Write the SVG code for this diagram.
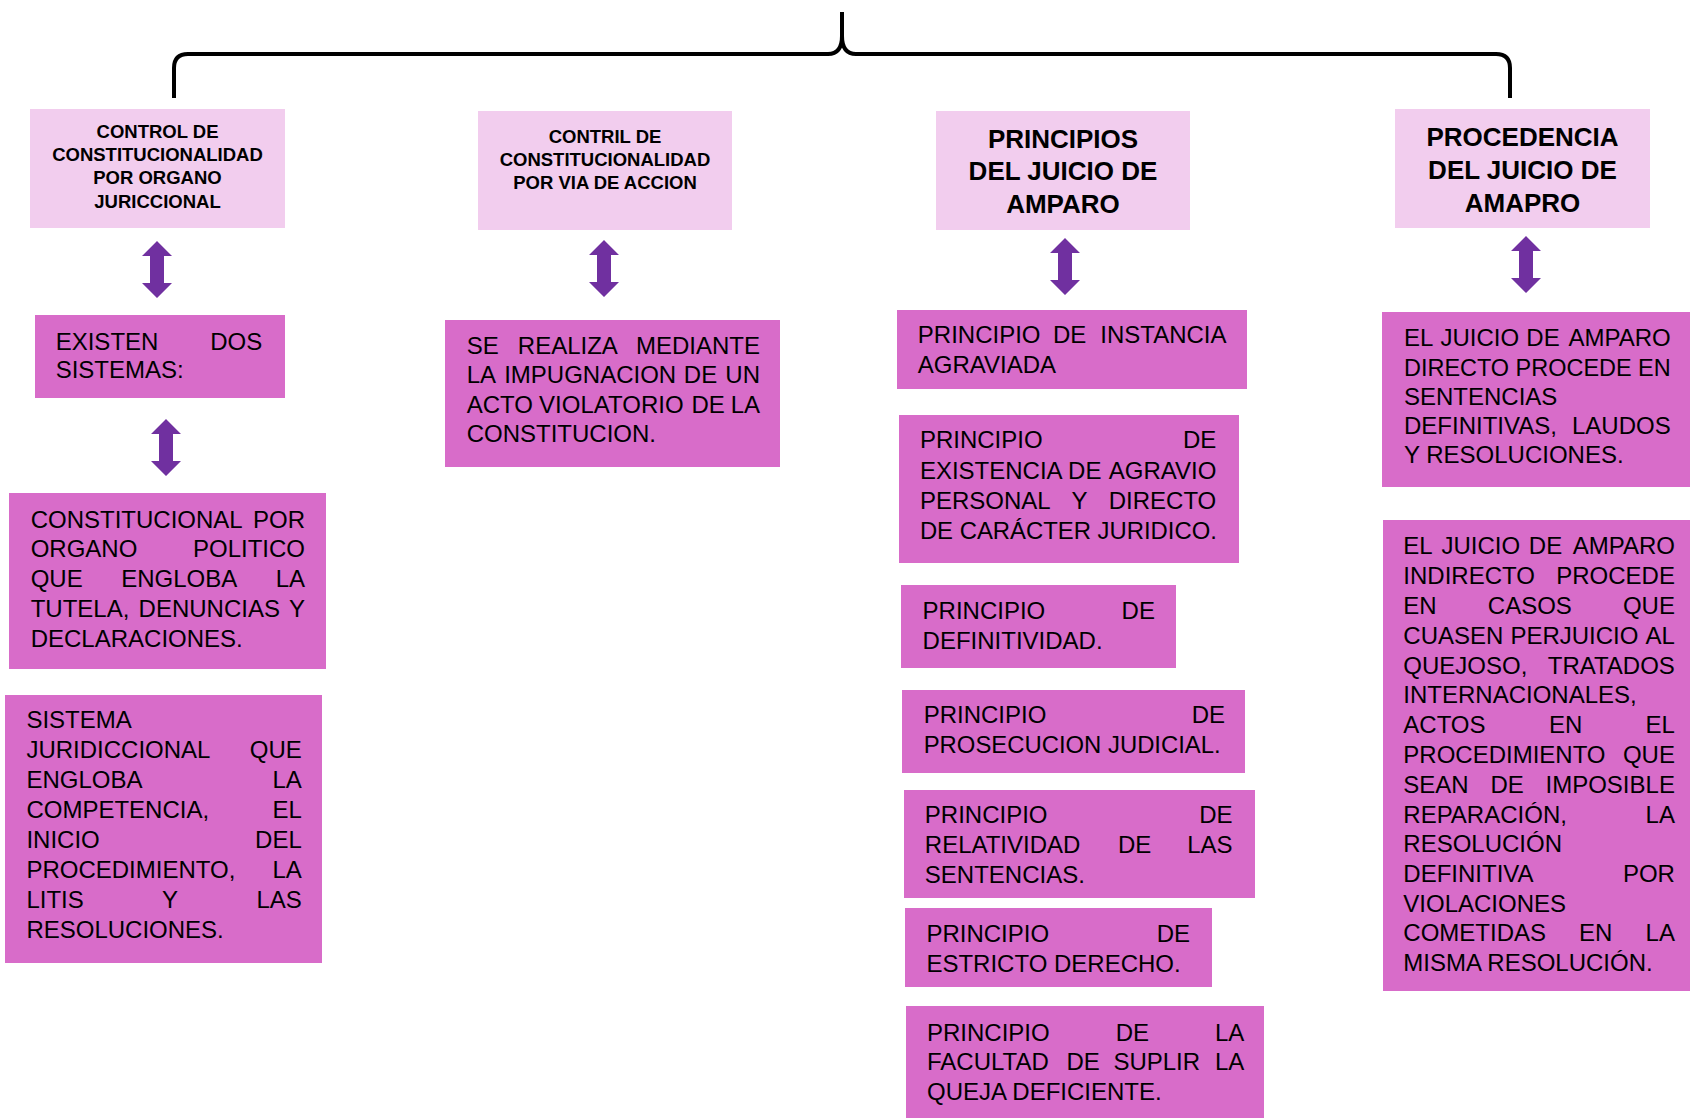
<svg xmlns="http://www.w3.org/2000/svg" xmlns:xlink="http://www.w3.org/1999/xlink" width="1690" height="1118" viewBox="0 0 1690 1118">
<style>
.lt{fill:#F2CDEE}
.dk{fill:#D86CC9}
text{font-family:"Liberation Sans",Arial,sans-serif;fill:#000}
.t{font-size:24px}
.e{text-anchor:end}
.h1{font-size:18.5px;font-weight:bold;text-anchor:middle}
.h2{font-size:26px;font-weight:bold;text-anchor:middle}
.br{fill:none;stroke:#000;stroke-width:4;stroke-linecap:butt;stroke-linejoin:round}
.ar{fill:#7030A0}
</style>
<defs>
<path id="dbl" d="M0 0 L15 15 L7 15 L7 42 L15 42 L0 57 L-15 42 L-7 42 L-7 15 L-15 15 Z"/>
</defs>
<rect width="1690" height="1118" fill="#fff"/>

<g id="connectors">
<path class="br" d="M174 98 V68 Q174 54 188 54 H828 Q842 54 842 36 V12"/>
<path class="br" d="M842 36 Q842 54 856 54 H1496 Q1510 54 1510 68 V98"/>
<use xlink:href="#dbl" class="ar" x="157" y="241"/>
<use xlink:href="#dbl" class="ar" x="166" y="419"/>
<use xlink:href="#dbl" class="ar" x="604" y="240"/>
<use xlink:href="#dbl" class="ar" x="1065" y="238"/>
<use xlink:href="#dbl" class="ar" x="1526" y="236"/>
</g>

<g id="n-control">
<rect class="lt" x="30" y="109" width="255" height="119"/>
<text class="h1" x="157.5" y="138.3">CONTROL DE</text>
<text class="h1" x="157.5" y="161">CONSTITUCIONALIDAD</text>
<text class="h1" x="157.5" y="184">POR ORGANO</text>
<text class="h1" x="157.5" y="207.7">JURICCIONAL</text>
</g>

<g id="n-contril">
<rect class="lt" x="478" y="111" width="254" height="119"/>
<text class="h1" x="605" y="143.3">CONTRIL DE</text>
<text class="h1" x="605" y="165.7">CONSTITUCIONALIDAD</text>
<text class="h1" x="605" y="188.7">POR VIA DE ACCION</text>
</g>

<g id="n-principios">
<rect class="lt" x="936" y="111" width="254" height="119"/>
<text class="h2" x="1063" y="147.7">PRINCIPIOS</text>
<text class="h2" x="1063" y="180.3">DEL JUICIO DE</text>
<text class="h2" x="1063" y="213.3">AMPARO</text>
</g>

<g id="n-procedencia">
<rect class="lt" x="1395" y="109" width="255" height="119"/>
<text class="h2" x="1522.5" y="145.7">PROCEDENCIA</text>
<text class="h2" x="1522.5" y="178.7">DEL JUICIO DE</text>
<text class="h2" x="1522.5" y="211.7">AMAPRO</text>
</g>

<g id="n-existen">
<rect class="dk" x="35" y="315" width="250" height="83"/>
<text class="t" x="55.7" y="350">EXISTEN</text>
<text class="t e" x="262.3" y="350">DOS</text>
<text class="t" x="55.7" y="378.3">SISTEMAS:</text>
</g>

<g id="n-politico">
<rect class="dk" x="9" y="493" width="317" height="176"/>
<text class="t" x="30.7" y="527.6">CONSTITUCIONAL</text>
<text class="t e" x="305" y="527.6">POR</text>
<text class="t" x="30.7" y="557.3">ORGANO</text>
<text class="t e" x="305" y="557.3">POLITICO</text>
<text class="t" x="30.7" y="587">QUE</text>
<text class="t" x="121.2" y="587">ENGLOBA</text>
<text class="t e" x="305" y="587">LA</text>
<text class="t" x="30.7" y="617.1">TUTELA,</text>
<text class="t" x="138.6" y="617.1">DENUNCIAS</text>
<text class="t e" x="305" y="617.1">Y</text>
<text class="t" x="30.7" y="646.8">DECLARACIONES.</text>
</g>

<g id="n-jurisdiccional">
<rect class="dk" x="5" y="695" width="317" height="268"/>
<text class="t" x="26.4" y="728.2">SISTEMA</text>
<text class="t" x="26.4" y="758.3">JURIDICCIONAL</text>
<text class="t e" x="301.8" y="758.3">QUE</text>
<text class="t" x="26.4" y="788">ENGLOBA</text>
<text class="t e" x="301.8" y="788">LA</text>
<text class="t" x="26.4" y="818.1">COMPETENCIA,</text>
<text class="t e" x="301.8" y="818.1">EL</text>
<text class="t" x="26.4" y="847.8">INICIO</text>
<text class="t e" x="301.8" y="847.8">DEL</text>
<text class="t" x="26.4" y="878">PROCEDIMIENTO,</text>
<text class="t e" x="301.8" y="878">LA</text>
<text class="t" x="26.4" y="908">LITIS</text>
<text class="t" x="162.1" y="908">Y</text>
<text class="t e" x="301.8" y="908">LAS</text>
<text class="t" x="26.4" y="937.8">RESOLUCIONES.</text>
</g>

<g id="n-realiza">
<rect class="dk" x="445" y="320" width="335" height="147"/>
<text class="t" x="466.7" y="354">SE</text>
<text class="t" x="517.8" y="354">REALIZA</text>
<text class="t e" x="760" y="354">MEDIANTE</text>
<text class="t" x="466.7" y="383.3">LA</text>
<text class="t" x="504.2" y="383.3">IMPUGNACION</text>
<text class="t" x="683.8" y="383.3">DE</text>
<text class="t e" x="760" y="383.3">UN</text>
<text class="t" x="466.7" y="412.7">ACTO</text>
<text class="t" x="539.1" y="412.7">VIOLATORIO</text>
<text class="t" x="691.5" y="412.7">DE</text>
<text class="t e" x="760" y="412.7">LA</text>
<text class="t" x="466.7" y="441.7">CONSTITUCION.</text>
</g>

<g id="n-instancia">
<rect class="dk" x="897" y="310" width="350" height="79"/>
<text class="t" x="917.8" y="343.3">PRINCIPIO</text>
<text class="t" x="1052.9" y="343.3">DE</text>
<text class="t e" x="1226.5" y="343.3">INSTANCIA</text>
<text class="t" x="917.8" y="373.3">AGRAVIADA</text>
</g>

<g id="n-agravio">
<rect class="dk" x="899" y="415" width="340" height="148"/>
<text class="t" x="919.9" y="448.3">PRINCIPIO</text>
<text class="t e" x="1216.3" y="448.3">DE</text>
<text class="t" x="919.9" y="478.5">EXISTENCIA</text>
<text class="t" x="1068.1" y="478.5">DE</text>
<text class="t e" x="1216.3" y="478.5">AGRAVIO</text>
<text class="t" x="919.9" y="508.7">PERSONAL</text>
<text class="t" x="1071.5" y="508.7">Y</text>
<text class="t e" x="1216.3" y="508.7">DIRECTO</text>
<text class="t" x="919.9" y="539" textLength="297" lengthAdjust="spacingAndGlyphs">DE CARÁCTER JURIDICO.</text>
</g>

<g id="n-definitividad">
<rect class="dk" x="901" y="585" width="275" height="83"/>
<text class="t" x="922.6" y="619.2">PRINCIPIO</text>
<text class="t e" x="1154.9" y="619.2">DE</text>
<text class="t" x="922.6" y="648.9">DEFINITIVIDAD.</text>
</g>

<g id="n-prosecucion">
<rect class="dk" x="902" y="690" width="343" height="83"/>
<text class="t" x="923.7" y="722.9">PRINCIPIO</text>
<text class="t e" x="1225" y="722.9">DE</text>
<text class="t" x="923.7" y="752.6" textLength="297" lengthAdjust="spacingAndGlyphs">PROSECUCION JUDICIAL.</text>
</g>

<g id="n-relatividad">
<rect class="dk" x="904" y="790" width="351" height="108"/>
<text class="t" x="924.8" y="823">PRINCIPIO</text>
<text class="t e" x="1232.5" y="823">DE</text>
<text class="t" x="924.8" y="852.7">RELATIVIDAD</text>
<text class="t" x="1118" y="852.7">DE</text>
<text class="t e" x="1232.5" y="852.7">LAS</text>
<text class="t" x="924.8" y="882.8">SENTENCIAS.</text>
</g>

<g id="n-estricto">
<rect class="dk" x="905" y="908" width="307" height="79"/>
<text class="t" x="926.4" y="941.8">PRINCIPIO</text>
<text class="t e" x="1190" y="941.8">DE</text>
<text class="t" x="926.4" y="971.5">ESTRICTO DERECHO.</text>
</g>

<g id="n-facultad">
<rect class="dk" x="906" y="1006" width="358" height="112"/>
<text class="t" x="927" y="1040.7">PRINCIPIO</text>
<text class="t" x="1115.7" y="1040.7">DE</text>
<text class="t e" x="1244.3" y="1040.7">LA</text>
<text class="t" x="927" y="1070">FACULTAD</text>
<text class="t" x="1066.4" y="1070">DE</text>
<text class="t" x="1113.4" y="1070">SUPLIR</text>
<text class="t e" x="1244.3" y="1070">LA</text>
<text class="t" x="927" y="1099.7">QUEJA DEFICIENTE.</text>
</g>

<g id="n-directo">
<rect class="dk" x="1382" y="312" width="308" height="175"/>
<text class="t" x="1404" y="346">EL</text>
<text class="t" x="1440.5" y="346">JUICIO</text>
<text class="t" x="1526.3" y="346">DE</text>
<text class="t e" x="1670.7" y="346">AMPARO</text>
<text class="t" x="1404" y="375.7" textLength="266.7" lengthAdjust="spacingAndGlyphs">DIRECTO PROCEDE EN</text>
<text class="t" x="1404" y="404.7">SENTENCIAS</text>
<text class="t" x="1404" y="433.7">DEFINITIVAS,</text>
<text class="t e" x="1670.7" y="433.7">LAUDOS</text>
<text class="t" x="1404" y="463">Y RESOLUCIONES.</text>
</g>

<g id="n-indirecto">
<rect class="dk" x="1383" y="520" width="307" height="471"/>
<text class="t" x="1403.3" y="554">EL</text>
<text class="t" x="1441.4" y="554">JUICIO</text>
<text class="t" x="1528.8" y="554">DE</text>
<text class="t e" x="1674.9" y="554">AMPARO</text>
<text class="t" x="1403.3" y="584.2">INDIRECTO</text>
<text class="t e" x="1674.9" y="584.2">PROCEDE</text>
<text class="t" x="1403.3" y="613.9">EN</text>
<text class="t" x="1487.8" y="613.9">CASOS</text>
<text class="t e" x="1674.9" y="613.9">QUE</text>
<text class="t" x="1403.3" y="643.6">CUASEN</text>
<text class="t" x="1510.4" y="643.6">PERJUICIO</text>
<text class="t e" x="1674.9" y="643.6">AL</text>
<text class="t" x="1403.3" y="673.7">QUEJOSO,</text>
<text class="t e" x="1674.9" y="673.7">TRATADOS</text>
<text class="t" x="1403.3" y="703.4">INTERNACIONALES,</text>
<text class="t" x="1403.3" y="733.1">ACTOS</text>
<text class="t" x="1549.1" y="733.1">EN</text>
<text class="t e" x="1674.9" y="733.1">EL</text>
<text class="t" x="1403.3" y="762.8">PROCEDIMIENTO</text>
<text class="t e" x="1674.9" y="762.8">QUE</text>
<text class="t" x="1403.3" y="792.5">SEAN</text>
<text class="t" x="1490.5" y="792.5">DE</text>
<text class="t e" x="1674.9" y="792.5">IMPOSIBLE</text>
<text class="t" x="1403.3" y="822.6">REPARACIÓN,</text>
<text class="t e" x="1674.9" y="822.6">LA</text>
<text class="t" x="1403.3" y="852.3">RESOLUCIÓN</text>
<text class="t" x="1403.3" y="882">DEFINITIVA</text>
<text class="t e" x="1674.9" y="882">POR</text>
<text class="t" x="1403.3" y="911.7">VIOLACIONES</text>
<text class="t" x="1403.3" y="941.4">COMETIDAS</text>
<text class="t" x="1579.1" y="941.4">EN</text>
<text class="t e" x="1674.9" y="941.4">LA</text>
<text class="t" x="1403.3" y="971.1">MISMA RESOLUCIÓN.</text>
</g>
</svg>
